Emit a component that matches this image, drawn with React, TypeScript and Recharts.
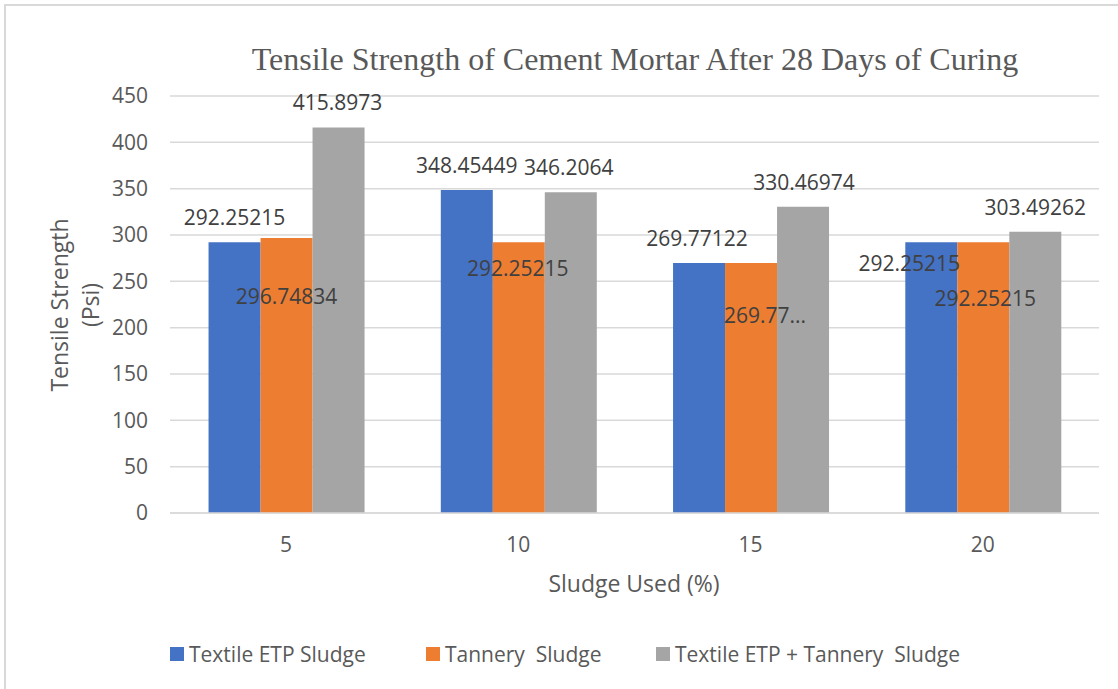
import React from 'react';
import { BarChart, Bar, XAxis, YAxis, CartesianGrid, LabelList, Legend } from 'recharts';

const categories = ['5', '10', '15', '20'];
const textileEtp = [292.25215, 348.45449, 269.77122, 292.25215];
const tannery = [296.74834, 292.25215, 269.77122, 292.25215];
const combined = [415.8973, 346.2064, 330.46974, 303.49262];
const yTicks = [0, 50, 100, 150, 200, 250, 300, 350, 400, 450];

const seriesNames = ['Textile ETP Sludge', 'Tannery  Sludge', 'Textile ETP + Tannery  Sludge'];
const seriesColors = ['#4472C4', '#ED7D31', '#A5A5A5'];

// label text shown truncated in the reference (series index, point index)
const truncatedLabels: Record<string, string> = { '1-2': '269.77...' };

// label placement (style): [dx from bar centre, dy of text centre from bar top]
const labelOffsets = [
  [[0, -25], [0, -25], [-2, -25], [-22, 21]],
  [[0, 58], [-1, 26], [14, 52], [2, 56]],
  [[-1, -26], [-2, -25], [1, -25], [0, -25]],
];

const data = categories.map((c, i) => ({
  category: c,
  s0: textileEtp[i],
  s1: tannery[i],
  s2: combined[i],
}));

const FONT = '"Open Sans", "Noto Sans", sans-serif';

const makeLabel = (seriesIdx: number) => (props: any) => {
  const { x, y, width, value, index } = props;
  const off = labelOffsets[seriesIdx][index] || [0, -25];
  const txt = truncatedLabels[`${seriesIdx}-${index}`] ?? String(value);
  return (
    <text
      x={Number(x) + Number(width) / 2 + off[0]}
      y={Number(y) + off[1]}
      textAnchor="middle"
      dominantBaseline="central"
      fontFamily={FONT}
      fontSize={21}
      fill="#404040"
    >
      {txt}
    </text>
  );
};

const legendWidths = [256, 230, undefined];

const renderLegend = () => (
  <div style={{ display: 'flex', alignItems: 'center', paddingLeft: 170, height: 28, fontFamily: FONT, fontSize: 21, color: '#595959', whiteSpace: 'pre' }}>
    {seriesNames.map((n, i) => (
      <div key={n} style={{ display: 'flex', alignItems: 'center', width: legendWidths[i], flexShrink: 0 }}>
        <span style={{ display: 'inline-block', width: 14, height: 14, background: seriesColors[i], marginRight: 5 }} />
        <span>{n}</span>
      </div>
    ))}
  </div>
);

export default function App() {
  return (
    <div style={{ position: 'absolute', left: 0, top: 0, width: 1118, height: 689, overflow: 'hidden', background: '#fff' }}>
      <BarChart
        width={1118}
        height={689}
        data={data}
        margin={{ top: 96, right: 19, left: 110, bottom: 136 }}
        barCategoryGap="16.6%"
        barGap={0}
      >
        <CartesianGrid vertical={false} stroke="#D9D9D9" strokeWidth={1.5} />
        <XAxis
          dataKey="category"
          height={40}
          tickLine={false}
          axisLine={{ stroke: '#D9D9D9', strokeWidth: 1.5 }}
          tickSize={0}
          tickMargin={24}
          tick={{ fontFamily: FONT, fontSize: 21, fill: '#595959' }}
        />
        <YAxis
          width={60}
          domain={[0, 450]}
          ticks={yTicks}
          interval={0}
          tickLine={false}
          axisLine={false}
          tickSize={0}
          tickMargin={22}
          tick={{ fontFamily: FONT, fontSize: 21, fill: '#595959' }}
        />
        <Legend layout="horizontal" verticalAlign="middle" align="center" wrapperStyle={{ top: 640, left: 0, width: 1118 }} content={renderLegend} />
        {[0, 1, 2].map((s) => (
          <Bar key={s} dataKey={`s${s}`} name={seriesNames[s]} fill={seriesColors[s]} isAnimationActive={false}>
            <LabelList dataKey={`s${s}`} content={makeLabel(s)} />
          </Bar>
        ))}
      </BarChart>
      <svg width={1118} height={689} style={{ position: 'absolute', left: 0, top: 0, pointerEvents: 'none' }}>
        <rect x={5} y={5} width={1200} height={800} fill="none" stroke="#D9D9D9" strokeWidth={2} />
        <text x={635} y={70} textAnchor="middle" fontFamily='"Liberation Serif", "Times New Roman", serif' fontSize={32} fill="#595959">
          Tensile Strength of Cement Mortar After 28 Days of Curing
        </text>
        <text x={634} y={583} textAnchor="middle" dominantBaseline="central" fontFamily={FONT} fontSize={23} fill="#595959">
          Sludge Used (%)
        </text>
        <text transform="translate(59,305) rotate(-90)" textAnchor="middle" dominantBaseline="central" fontFamily={FONT} fontSize={23} fill="#595959">
          Tensile Strength
        </text>
        <text transform="translate(90,305) rotate(-90)" textAnchor="middle" dominantBaseline="central" fontFamily={FONT} fontSize={23} fill="#595959">
          (Psi)
        </text>
      </svg>
    </div>
  );
}
